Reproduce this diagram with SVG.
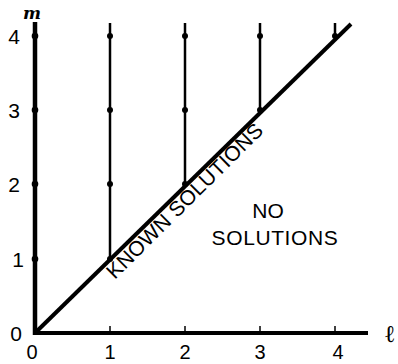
<svg xmlns="http://www.w3.org/2000/svg" width="398" height="364" viewBox="0 0 398 364">
<style>
.t{font-family:"Liberation Sans",Arial,sans-serif;font-size:21px;fill:#000}
.ln{stroke:#000;fill:none;stroke-linecap:butt}
.dot{fill:#000}
</style>
<rect width="398" height="364" fill="#fff"/>
<g id="axes">
<line class="ln" x1="35" y1="333" x2="368" y2="333" stroke-width="4"/>
<line class="ln" x1="35" y1="335" x2="35" y2="22" stroke-width="4.5"/>
<g stroke="#000" stroke-width="1.5">
<line x1="110" y1="326" x2="110" y2="333"/>
<line x1="185" y1="326" x2="185" y2="333"/>
<line x1="260" y1="326" x2="260" y2="333"/>
<line x1="335" y1="326" x2="335" y2="333"/>
</g>
</g>
<g id="connectors">
<line class="ln" x1="35" y1="333" x2="351" y2="24" stroke-width="4"/>
<line class="ln" x1="110" y1="259" x2="110" y2="23" stroke-width="2.5"/>
<line class="ln" x1="185" y1="184" x2="185" y2="23" stroke-width="2.5"/>
<line class="ln" x1="260" y1="110" x2="260" y2="23" stroke-width="2.5"/>
<line class="ln" x1="335" y1="36" x2="335" y2="23" stroke-width="2.5"/>
</g>
<g id="points">
<circle class="dot" cx="35" cy="36" r="3.3"/>
<circle class="dot" cx="35" cy="110" r="3.3"/>
<circle class="dot" cx="35" cy="184" r="3.3"/>
<circle class="dot" cx="35" cy="259" r="3.3"/>
<circle class="dot" cx="110" cy="36" r="3"/>
<circle class="dot" cx="110" cy="110" r="3"/>
<circle class="dot" cx="110" cy="184" r="3"/>
<circle class="dot" cx="110" cy="259" r="3"/>
<circle class="dot" cx="185" cy="36" r="3"/>
<circle class="dot" cx="185" cy="110" r="3"/>
<circle class="dot" cx="185" cy="184" r="3"/>
<circle class="dot" cx="260" cy="36" r="3"/>
<circle class="dot" cx="260" cy="110" r="3"/>
<circle class="dot" cx="335" cy="36" r="3"/>
</g>
<g id="y-labels" class="t" text-anchor="middle">
<text x="14" y="44">4</text>
<text x="14" y="118">3</text>
<text x="14" y="192">2</text>
<text x="18" y="267">1</text>
<text x="16" y="341">0</text>
</g>
<g id="x-labels" class="t" text-anchor="middle" font-size="20">
<text x="32" y="359" style="font-size:20px">0</text>
<text x="110" y="359" style="font-size:20px">1</text>
<text x="185" y="359" style="font-size:20px">2</text>
<text x="260" y="359" style="font-size:20px">3</text>
<text x="338" y="359" style="font-size:20px">4</text>
</g>
<text id="m-label" x="32" y="19" text-anchor="middle" font-family="'DejaVu Serif',serif" font-style="italic" font-weight="bold" font-size="17">m</text>
<text id="l-label" x="390" y="342" text-anchor="middle" font-family="'DejaVu Serif',serif" font-weight="bold" font-size="24">ℓ</text>
<text id="known" class="t" transform="translate(114.8,280) rotate(-44.7)" letter-spacing="0.2">KNOWN SOLUTIONS</text>
<g id="no-solutions" class="t" text-anchor="middle">
<text x="268" y="218">NO</text>
<text x="275" y="245" letter-spacing="0.6">SOLUTIONS</text>
</g>
</svg>
